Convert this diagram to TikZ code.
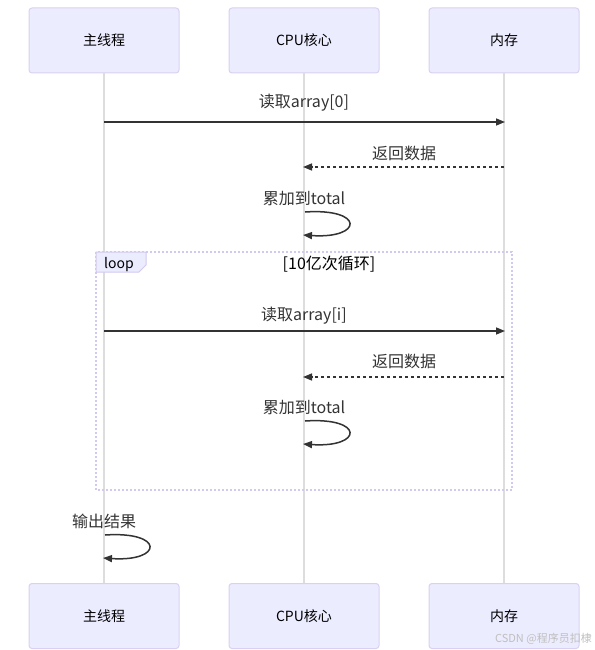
\documentclass[tikz,border=0pt]{standalone}
\usepackage{fontspec}
\setmainfont{Noto Sans CJK SC}
\usetikzlibrary{arrows.meta}
\definecolor{actfill}{HTML}{ECECFF}
\definecolor{actline}{HTML}{DAD0F2}
\definecolor{lifeline}{HTML}{DDDDDD}
\definecolor{msg}{HTML}{333333}
\definecolor{loopline}{HTML}{D2C8F0}
\begin{document}
\begin{tikzpicture}[x=1pt,y=-1pt,
  actor/.style={draw=actline, fill=actfill, rounded corners=3pt, minimum width=150pt,
    minimum height=65pt, line width=1pt, font=\fontsize{14}{16}\selectfont, inner sep=0pt},
  life/.style={draw=lifeline, line width=1.5pt},
  msgtext/.style={font=\fontsize{16}{18}\selectfont, text=msg, inner sep=0pt, yshift=-1.5pt},
  call/.style={draw=msg, line width=1.5pt, -{Triangle[length=9pt,width=7pt]}},
  reply/.style={call, dash pattern=on 3pt off 3pt},
  loopbox/.style={draw=loopline, line width=2pt, dash pattern=on 2pt off 2pt},
  looptag/.style={draw=loopline, fill=actfill, line width=1pt},
  wmtext/.style={font=\fontsize{11}{13}\selectfont, text=black!25, inner sep=0pt}
]
\useasboundingbox (0,0) rectangle (594,650);

% actors
\node[actor] (a1) at (104,40.5) {主线程};
\node[actor] (a2) at (304,40.5) {CPU核心};
\node[actor] (a3) at (504,40.5) {内存};
\node[actor] (b1) at (104,616) {主线程};
\node[actor] (b2) at (304,616) {CPU核心};
\node[actor] (b3) at (504,616) {内存};

% lifelines
\draw[life] (a1) -- (b1);
\draw[life] (a2) -- (b2);
\draw[life] (a3) -- (b3);

% loop frame
\draw[loopbox] (96,252) rectangle (512,490);
\draw[looptag] (96,252) -- (146,252) -- (146,265) -- (139,272) -- (96,272) -- cycle;
\node[font=\fontsize{14}{16}\selectfont, inner sep=0pt, yshift=-1.5pt] (looplbl) at (119,263) {loop};
\node[msgtext, text=black] (loopcond) at (329,263) {[10亿次循环]};

% message 1
\coordinate (m1s) at (104,122);
\coordinate (m1e) at (505,122);
\node[msgtext] (t1) at (304,101) {读取array[0]};
\draw[call] (m1s) -- (m1e);

% message 2
\coordinate (m2s) at (504,167);
\coordinate (m2e) at (303,167);
\node[msgtext] (t2) at (404,152) {返回数据};
\draw[reply] (m2s) -- (m2e);

% message 3 (self)
\coordinate (m3s) at (305,212);
\coordinate (m3e) at (303,235);
\node[msgtext] (t3) at (304,197) {累加到total};
\draw[call] (m3s) .. controls +(60,-4) and +(60,4) .. (m3e);

% message 4
\coordinate (m4s) at (104,331);
\coordinate (m4e) at (505,331);
\node[msgtext] (t4) at (304,314) {读取array[i]};
\draw[call] (m4s) -- (m4e);

% message 5
\coordinate (m5s) at (504,377);
\coordinate (m5e) at (303,377);
\node[msgtext] (t5) at (404,360) {返回数据};
\draw[reply] (m5s) -- (m5e);

% message 6 (self)
\coordinate (m6s) at (305,421);
\coordinate (m6e) at (303,444);
\node[msgtext] (t6) at (304,406) {累加到total};
\draw[call] (m6s) .. controls +(60,-4) and +(60,4) .. (m6e);

% message 7 (self)
\coordinate (m7s) at (105,535);
\coordinate (m7e) at (103,558);
\node[msgtext] (t7) at (104,520) {输出结果};
\draw[call] (m7s) .. controls +(60,-4) and +(60,4) .. (m7e);

% watermark
\node[wmtext, anchor=east] (wm) at (592,639) {CSDN @程序员扣棣};
\end{tikzpicture}
\end{document}
